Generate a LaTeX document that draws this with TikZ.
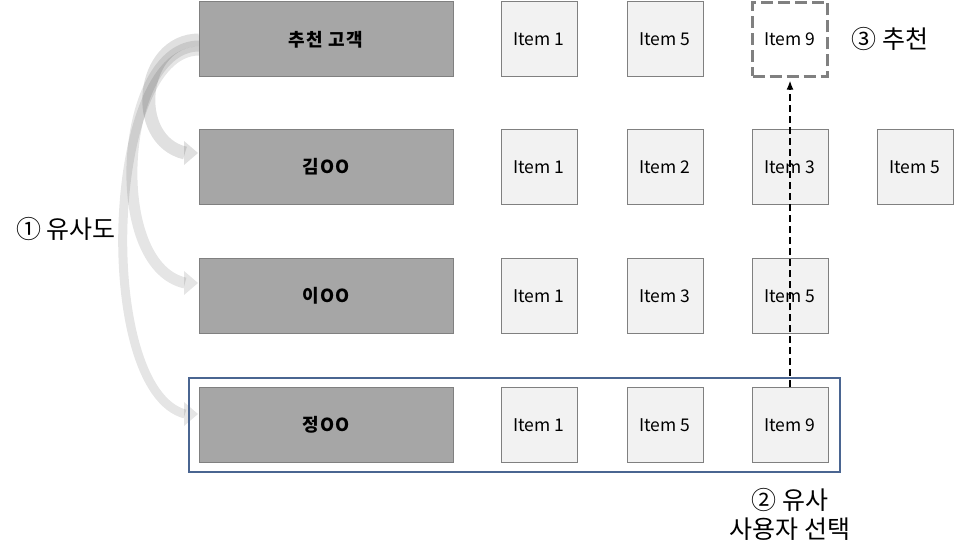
\documentclass[tikz,border=0pt]{standalone}
\usepackage{fontspec}
\setmainfont{Noto Sans CJK KR}
\newfontfamily\custfont[LetterSpace=8]{Noto Sans CJK KR}
\usetikzlibrary{arrows.meta}
\definecolor{custfill}{HTML}{A6A6A6}
\definecolor{itemfill}{HTML}{F2F2F2}
\definecolor{edge}{HTML}{808080}
\definecolor{selblue}{HTML}{4A6591}
\tikzset{
  cust/.style={draw=edge, fill=custfill, line width=1pt, minimum width=254pt, minimum height=75pt, inner sep=0pt, font=\custfont\fontsize{18}{22}\selectfont\bfseries},
  itembox/.style={draw=edge, fill=itemfill, line width=1pt, minimum width=76pt, minimum height=75pt, inner sep=0pt, font=\fontsize{17.5}{21}\selectfont},
  lbl/.style={font=\fontsize{25}{29}\selectfont, align=center, inner sep=0pt},
  simarrow/.style={line cap=butt, draw opacity=0.1, fill opacity=0.1, -{Triangle[width=24pt,length=14pt]}}
}
\begin{document}
\begin{tikzpicture}[x=1pt,y=-1pt]
\useasboundingbox (0,0) rectangle (954,559);
% similarity arrows (drawn first, behind)
\coordinate (s2) at (199,40);
\coordinate (s3) at (199,46);
\coordinate (s4) at (199,51);
\coordinate (t2) at (198,153);
\coordinate (t3) at (198,283);
\coordinate (t4) at (198,414);
\begin{scope}[transparency group]
\draw[line width=9pt, line cap=butt, draw opacity=0.1] (s4) .. controls (105,51) and (95,390) .. ([xshift=-13pt]t4);
\fill[opacity=0.1] (t4) -- ++(-14,-12) -- ++(0,24) -- cycle;
\end{scope}
\begin{scope}[transparency group]
\draw[line width=11pt, line cap=butt, draw opacity=0.1] (s3) .. controls (120,46) and (105,265) .. ([xshift=-13pt]t3);
\fill[opacity=0.1] (t3) -- ++(-14,-12) -- ++(0,24) -- cycle;
\end{scope}
\begin{scope}[transparency group]
\draw[line width=13pt, line cap=butt, draw opacity=0.12] (s2) .. controls (140,40) and (130,140) .. ([xshift=-13pt]t2);
\fill[opacity=0.12] (t2) -- ++(-14,-12) -- ++(0,24) -- cycle;
\end{scope}
% selection frame
\node[draw=selblue, line width=2.5pt, minimum width=651pt, minimum height=94pt, inner sep=0pt] (sel) at (514.5,425) {};
% customers
\node[cust] (c0) at (326,39.5) {추천 고객};
\node[cust] (c1) at (326,167) {김OO};
\node[cust] (c2) at (326,296) {이OO};
\node[cust] (c3) at (326,425) {정OO};
% items
\node[itembox] (a1) at (539,39.5) {Item 1};
\node[itembox] (a2) at (665,39.5) {Item 5};
\node[draw=edge, dash pattern=on 12pt off 5pt, fill=white, line width=2.5pt, minimum width=75pt, minimum height=74pt, inner sep=0pt, font=\fontsize{17.5}{21}\selectfont] (a3) at (790,39.5) {Item 9};
\node[itembox] (b1) at (539,167) {Item 1};
\node[itembox] (b2) at (665,167) {Item 2};
\node[itembox] (b3) at (790,167) {Item 3};
\node[itembox] (b4) at (915,167) {Item 5};
\node[itembox] (d1) at (539,296) {Item 1};
\node[itembox] (d2) at (665,296) {Item 3};
\node[itembox] (d3) at (790,296) {Item 5};
\node[itembox] (e1) at (539,425) {Item 1};
\node[itembox] (e2) at (665,425) {Item 5};
\node[itembox] (e3) at (790,425) {Item 9};
% recommendation arrow
\draw[dash pattern=on 7pt off 4pt, line width=1.2pt, -{Latex[length=9pt,width=7pt]}] (e3.north) -- ([yshift=-3pt]a3.south);
% labels
\node[lbl] (l1) at (66,229) {① 유사도};
\node[lbl] (l3) at (890,39) {③ 추천};
\node[lbl] (l2) at (790,514) {② 유사\\사용자 선택};
\end{tikzpicture}
\end{document}
